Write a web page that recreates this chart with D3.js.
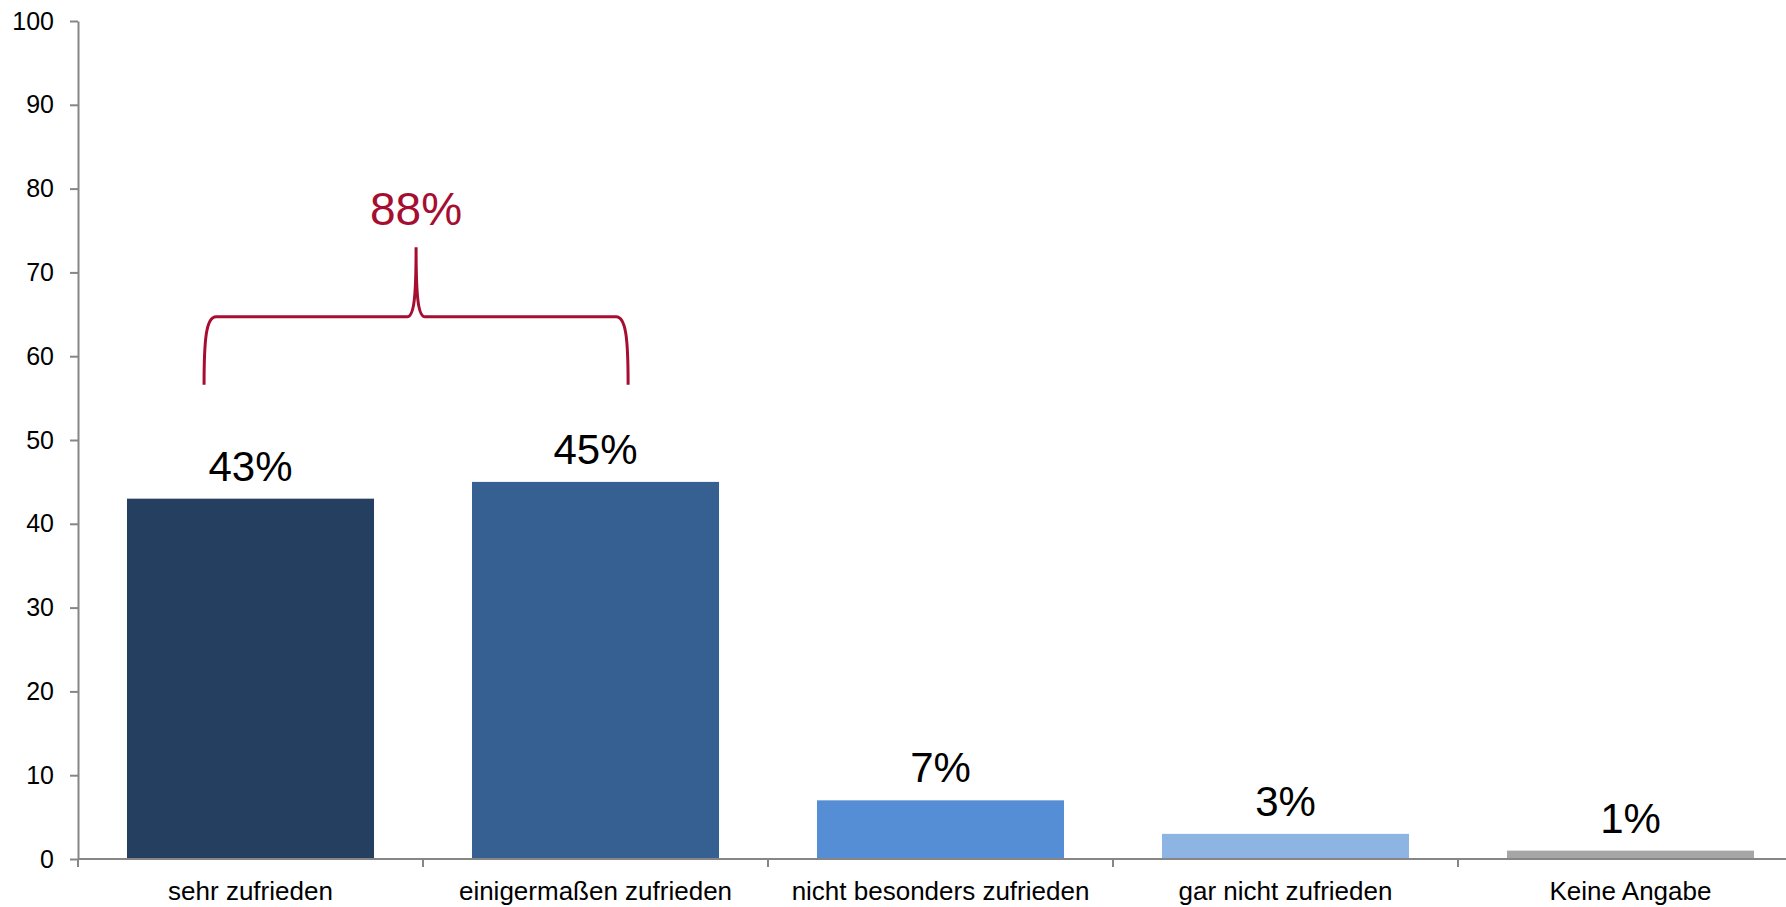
<!DOCTYPE html>
<html lang="de">
<head>
<meta charset="utf-8">
<script src="https://cdn.jsdelivr.net/npm/d3@7"></script>
<style>
  html, body { margin: 0; padding: 0; background: #fff; }
  svg { display: block; font-family: "Liberation Sans", Arial, sans-serif; }
</style>
</head>
<body>
<svg id="chart" width="1786" height="907"></svg>
<script>
// Zufriedenheit – Anteile in Prozent
const categories = ["sehr zufrieden", "einigermaßen zufrieden", "nicht besonders zufrieden", "gar nicht zufrieden", "Keine Angabe"];
const values = [43, 45, 7, 3, 1];
const barColors = ["#243F5F", "#376092", "#558ED5", "#8EB4E3", "#A6A6A6"];
const yTicks = [0, 10, 20, 30, 40, 50, 60, 70, 80, 90, 100];
// Zusammengefasste Zustimmung (erste zwei Kategorien)
const groupIdx = [0, 1];

const svg = d3.select("#chart");
const axisColor = "#868686";
const accent = "#A50E30";

const plotLeft = 78, plotRight = 1803, plotTop = 21, plotBottom = 859;

const x = d3.scaleBand().domain(categories).range([plotLeft, plotRight]).paddingInner(0.284).paddingOuter(0.142);
const y = d3.scaleLinear().domain([0, 100]).range([plotBottom, plotTop]);
const step = x.step();

// Balken
svg.append("g").selectAll("rect").data(values).join("rect")
  .attr("x", (d, i) => x(categories[i]))
  .attr("y", d => y(d))
  .attr("width", x.bandwidth())
  .attr("height", d => y(0) - y(d))
  .attr("fill", (d, i) => barColors[i]);

// Wertebeschriftungen
svg.append("g").selectAll("text").data(values).join("text")
  .attr("x", (d, i) => x(categories[i]) + x.bandwidth() / 2)
  .attr("y", d => y(d) - 18)
  .attr("text-anchor", "middle")
  .attr("font-size", 42)
  .attr("fill", "#000")
  .text(d => d + "%");

// Y-Achse
const yAxis = svg.append("g").attr("transform", `translate(${plotLeft},0)`)
  .call(d3.axisLeft(y).tickValues(yTicks).tickSize(8).tickPadding(16).tickSizeOuter(0));
yAxis.select(".domain").attr("stroke", axisColor).attr("stroke-width", 2);
yAxis.selectAll(".tick line").attr("stroke", axisColor).attr("stroke-width", 2);
yAxis.selectAll(".tick text").attr("font-size", 25).attr("fill", "#000")
  .attr("font-family", "Liberation Sans, Arial, sans-serif");

// X-Achse mit Trennstrichen zwischen den Kategorien
const xg = svg.append("g");
xg.append("line")
  .attr("x1", plotLeft).attr("x2", plotRight).attr("y1", y(0)).attr("y2", y(0))
  .attr("stroke", axisColor).attr("stroke-width", 2);
const boundaries = d3.range(categories.length + 1).map(i => plotLeft + i * step);
xg.selectAll("line.sep").data(boundaries).join("line").attr("class", "sep")
  .attr("x1", d => d).attr("x2", d => d)
  .attr("y1", y(0)).attr("y2", y(0) + 8)
  .attr("stroke", axisColor).attr("stroke-width", 2);
xg.selectAll("text").data(categories).join("text")
  .attr("x", d => x(d) + x.bandwidth() / 2)
  .attr("y", y(0) + 41)
  .attr("text-anchor", "middle")
  .attr("font-size", 26)
  .attr("fill", "#000")
  .text(d => d);

// Geschweifte Klammer über den ersten zwei Balken
const bL = x(categories[groupIdx[0]]) + x.bandwidth() * 0.312;
const bR = x(categories[groupIdx[1]]) + x.bandwidth() * 0.632;
const bMid = (bL + bR) / 2;
const yBot = y(56.6), yBar = y(64.7), yTip = y(73);
const p = d3.path();
p.moveTo(bL, yBot);
p.bezierCurveTo(bL, yBot - 45, bL + 2, yBar, bL + 12, yBar);
p.lineTo(bMid - 9, yBar);
p.bezierCurveTo(bMid - 2, yBar, bMid, yBar - 20, bMid, yTip);
p.bezierCurveTo(bMid, yBar - 20, bMid + 2, yBar, bMid + 9, yBar);
p.lineTo(bR - 12, yBar);
p.bezierCurveTo(bR - 2, yBar, bR, yBot - 45, bR, yBot);
svg.append("path").attr("d", p.toString())
  .attr("fill", "none").attr("stroke", accent).attr("stroke-width", 3);

svg.append("text")
  .attr("x", bMid)
  .attr("y", y(75.7))
  .attr("text-anchor", "middle")
  .attr("font-size", 46)
  .attr("fill", accent)
  .text(d3.sum(groupIdx, i => values[i]) + "%");
</script>
</body>
</html>
